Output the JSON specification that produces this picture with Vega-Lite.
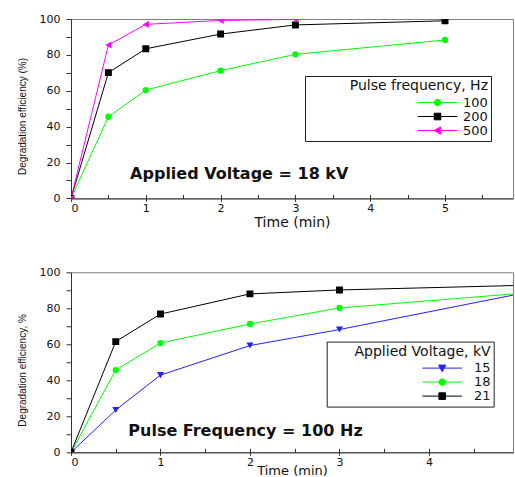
{
  "$schema": "https://vega.github.io/schema/vega-lite/v6.json",
  "padding": {"left": 16, "top": 12, "right": 0, "bottom": 0},
  "background": "white",
  "bounds": "flush",
  "spacing": 73.3,
  "resolve": {
    "scale": {"color": "independent", "shape": "independent", "stroke": "independent"}
  },
  "config": {
    "font": "DejaVu Sans",
    "view": {"stroke": "#808080", "strokeWidth": 1},
    "axis": {
      "grid": false,
      "domainColor": "#333333",
      "tickColor": "#333333",
      "labelFont": "DejaVu Sans",
      "labelFontSize": 11,
      "labelColor": "#111111",
      "titleFont": "DejaVu Sans",
      "titleFontWeight": "normal",
      "titleColor": "#111111"
    }
  },
  "vconcat": [
    {
      "width": 442,
      "height": 179.4,
      "data": {
        "values": [
          {"t": 0, "e": 0, "s": "100"},
          {"t": 0.5, "e": 45.5, "s": "100"},
          {"t": 1, "e": 60.4, "s": "100"},
          {"t": 2, "e": 71.2, "s": "100"},
          {"t": 3, "e": 80.3, "s": "100"},
          {"t": 5, "e": 88.3, "s": "100"},
          {"t": 0, "e": 0, "s": "200"},
          {"t": 0.5, "e": 70.1, "s": "200"},
          {"t": 1, "e": 83.4, "s": "200"},
          {"t": 2, "e": 91.6, "s": "200"},
          {"t": 3, "e": 96.7, "s": "200"},
          {"t": 5, "e": 99.0, "s": "200"},
          {"t": 0, "e": 0, "s": "500"},
          {"t": 0.5, "e": 85.5, "s": "500"},
          {"t": 1, "e": 97.0, "s": "500"},
          {"t": 2, "e": 99.2, "s": "500"},
          {"t": 3, "e": 99.8, "s": "500"}
        ]
      },
      "encoding": {
        "y": {
          "field": "e",
          "type": "quantitative",
          "scale": {"domain": [0, 100], "nice": false},
          "axis": {
            "title": "Degradation efficiency (%)",
            "values": [0, 10, 20, 30, 40, 50, 60, 70, 80, 90, 100],
            "labelExpr": "datum.value % 20 == 0 ? datum.label : ''",
            "tickSize": 5,
            "labelPadding": 6,
            "titleFont": "Liberation Sans",
            "titleFontSize": 10,
            "titleX": -44,
            "titleY": 97
          }
        },
        "x": {
          "field": "t",
          "type": "quantitative",
          "scale": {"domain": [0, 5.909], "nice": false, "zero": false},
          "axis": {
            "title": "Time (min)",
            "values": [0, 0.5, 1, 1.5, 2, 2.5, 3, 3.5, 4, 4.5, 5, 5.5],
            "labelExpr": "datum.value % 1 == 0 ? format(datum.value, 'd') : ''",
            "tickOpacity": {"condition": {"test": "datum.value % 1 != 0", "value": 0}, "value": 1},
            "tickSize": 3,
            "labelPadding": 1,
            "grid": true,
            "gridColor": "#333333",
            "gridWidth": 1,
            "gridDash": [4, 175.4],
            "gridDashOffset": 4,
            "titleFontSize": 14,
            "titleY": 24,
            "titleBaseline": "middle"
          }
        }
      },
      "layer": [
        {
          "transform": [{"filter": "datum.t < 0"}],
          "mark": {"type": "point", "filled": true, "opacity": 1, "strokeWidth": 1},
          "encoding": {
            "color": {
              "field": "s",
              "type": "nominal",
              "scale": {"domain": ["100", "200", "500"], "range": ["#00ff00", "#000000", "#ff00ff"]},
              "legend": {
                "title": "Pulse frequency, Hz",
                "orient": "none",
                "legendX": 234,
                "legendY": 57,
                "direction": "vertical",
                "fillColor": "white",
                "strokeColor": "#222222",
                "padding": 3,
                "titleAnchor": "end",
                "titleFont": "DejaVu Sans",
                "titleFontSize": 14,
                "titleFontWeight": "normal",
                "titleColor": "#111111",
                "titlePadding": 3,
                "titleLimit": 400,
                "labelFont": "DejaVu Sans",
                "labelFontSize": 13,
                "labelColor": "#111111",
                "symbolSize": 144,
                "symbolStrokeWidth": 1,
                "symbolOffset": 123,
                "labelOffset": 19,
                "clipHeight": 13,
                "rowPadding": 0
              }
            },
            "stroke": {
              "field": "s",
              "type": "nominal",
              "scale": {"domain": ["100", "200", "500"], "range": ["#00ff00", "#000000", "#ff00ff"]},
              "legend": {
                "title": "Pulse frequency, Hz",
                "orient": "none",
                "legendX": 234,
                "legendY": 57,
                "direction": "vertical",
                "fillColor": "white",
                "strokeColor": "#222222",
                "padding": 3,
                "titleAnchor": "end",
                "titleFont": "DejaVu Sans",
                "titleFontSize": 14,
                "titleFontWeight": "normal",
                "titleColor": "#111111",
                "titlePadding": 3,
                "titleLimit": 400,
                "labelFont": "DejaVu Sans",
                "labelFontSize": 13,
                "labelColor": "#111111",
                "symbolSize": 144,
                "symbolStrokeWidth": 1,
                "symbolOffset": 123,
                "labelOffset": 19,
                "clipHeight": 13,
                "rowPadding": 0
              }
            },
            "shape": {
              "field": "s",
              "type": "nominal",
              "scale": {
                "domain": ["100", "200", "500"],
                "range": [
                  "M-3.3,0H3.3M0.55,0L0.39,0.39L0,0.55L-0.39,0.39L-0.55,0L-0.39,-0.39L0,-0.55L0.39,-0.39Z",
                  "M-3.3,0H3.3M-0.55,-0.55H0.55V0.55H-0.55Z",
                  "M-3.3,0H3.3M-0.6,0L0.55,-0.6L0.55,0.6Z"
                ]
              },
              "legend": {
                "title": "Pulse frequency, Hz",
                "orient": "none",
                "legendX": 234,
                "legendY": 57,
                "direction": "vertical",
                "fillColor": "white",
                "strokeColor": "#222222",
                "padding": 3,
                "titleAnchor": "end",
                "titleFont": "DejaVu Sans",
                "titleFontSize": 14,
                "titleFontWeight": "normal",
                "titleColor": "#111111",
                "titlePadding": 3,
                "titleLimit": 400,
                "labelFont": "DejaVu Sans",
                "labelFontSize": 13,
                "labelColor": "#111111",
                "symbolSize": 144,
                "symbolStrokeWidth": 1,
                "symbolOffset": 123,
                "labelOffset": 19,
                "clipHeight": 13,
                "rowPadding": 0
              }
            }
          }
        },
        {
          "mark": {"type": "line", "strokeWidth": 1, "clip": true},
          "encoding": {
            "color": {
              "field": "s",
              "type": "nominal",
              "scale": {"domain": ["100", "200", "500"], "range": ["#00ff00", "#000000", "#ff00ff"]}
            }
          }
        },
        {
          "transform": [{"filter": "datum.s == '100'"}],
          "mark": {"type": "point", "shape": "circle", "filled": true, "opacity": 1, "size": 40, "clip": true},
          "encoding": {
            "color": {
              "field": "s",
              "type": "nominal",
              "scale": {"domain": ["100", "200", "500"], "range": ["#00ff00", "#000000", "#ff00ff"]}
            }
          }
        },
        {
          "transform": [{"filter": "datum.s == '200'"}],
          "mark": {"type": "point", "shape": "square", "filled": true, "opacity": 1, "size": 48, "clip": true},
          "encoding": {
            "color": {
              "field": "s",
              "type": "nominal",
              "scale": {"domain": ["100", "200", "500"], "range": ["#00ff00", "#000000", "#ff00ff"]}
            }
          }
        },
        {
          "transform": [{"filter": "datum.s == '500'"}],
          "mark": {"type": "point", "shape": "triangle-left", "filled": true, "opacity": 1, "size": 50, "clip": true},
          "encoding": {
            "color": {
              "field": "s",
              "type": "nominal",
              "scale": {"domain": ["100", "200", "500"], "range": ["#00ff00", "#000000", "#ff00ff"]}
            }
          }
        },
        {
          "data": {"values": [{"label": "Applied Voltage = 18 kV", "t": 0.79, "e": 13.8}]},
          "mark": {"type": "text", "font": "DejaVu Sans", "fontWeight": "bold", "fontSize": 16, "align": "left", "baseline": "middle", "color": "#111111"},
          "encoding": {
            "text": {"field": "label", "type": "nominal"}
          }
        }
      ]
    },
    {
      "width": 442,
      "height": 180,
      "data": {
        "values": [
          {"t": 0, "e": 0, "v": "15"},
          {"t": 0.5, "e": 23.5, "v": "15"},
          {"t": 1, "e": 42.9, "v": "15"},
          {"t": 2, "e": 59.3, "v": "15"},
          {"t": 3, "e": 68.2, "v": "15"},
          {"t": 5, "e": 87.9, "v": "15"},
          {"t": 0, "e": 0, "v": "18"},
          {"t": 0.5, "e": 45.7, "v": "18"},
          {"t": 1, "e": 60.7, "v": "18"},
          {"t": 2, "e": 71.3, "v": "18"},
          {"t": 3, "e": 80.2, "v": "18"},
          {"t": 5, "e": 88.2, "v": "18"},
          {"t": 0, "e": 0, "v": "21"},
          {"t": 0.5, "e": 61.5, "v": "21"},
          {"t": 1, "e": 76.8, "v": "21"},
          {"t": 2, "e": 88.0, "v": "21"},
          {"t": 3, "e": 90.2, "v": "21"},
          {"t": 5, "e": 92.7, "v": "21"}
        ]
      },
      "encoding": {
        "y": {
          "field": "e",
          "type": "quantitative",
          "scale": {"domain": [0, 100], "nice": false},
          "axis": {
            "title": "Degradation efficiency, %",
            "values": [0, 10, 20, 30, 40, 50, 60, 70, 80, 90, 100],
            "labelExpr": "datum.value % 20 == 0 ? datum.label : ''",
            "tickSize": 5,
            "labelPadding": 6,
            "titleFont": "Liberation Sans",
            "titleFontSize": 10,
            "titleX": -44,
            "titleY": 97.6
          }
        },
        "x": {
          "field": "t",
          "type": "quantitative",
          "scale": {"domain": [0, 4.939], "nice": false, "zero": false},
          "axis": {
            "title": "Time (min)",
            "values": [0, 0.5, 1, 1.5, 2, 2.5, 3, 3.5, 4, 4.5],
            "labelExpr": "datum.value % 1 == 0 ? format(datum.value, 'd') : ''",
            "tickOpacity": {"condition": {"test": "datum.value % 1 != 0", "value": 0}, "value": 1},
            "tickSize": 3,
            "labelPadding": 1,
            "grid": true,
            "gridColor": "#333333",
            "gridWidth": 1,
            "gridDash": [4, 176],
            "gridDashOffset": 4,
            "titleFontSize": 13,
            "titleY": 18,
            "titleBaseline": "middle"
          }
        }
      },
      "layer": [
        {
          "transform": [{"filter": "datum.t < 0"}],
          "mark": {"type": "point", "filled": true, "opacity": 1, "strokeWidth": 1},
          "encoding": {
            "color": {
              "field": "v",
              "type": "nominal",
              "scale": {"domain": ["15", "18", "21"], "range": ["#2020ff", "#00ff00", "#000000"]},
              "legend": {
                "title": "Applied Voltage, kV",
                "orient": "none",
                "legendX": 255.7,
                "legendY": 69.3,
                "direction": "vertical",
                "fillColor": "white",
                "strokeColor": "#222222",
                "padding": 3,
                "titleAnchor": "end",
                "titleFont": "DejaVu Sans",
                "titleFontSize": 14,
                "titleFontWeight": "normal",
                "titleColor": "#111111",
                "titlePadding": 3,
                "titleLimit": 400,
                "labelFont": "DejaVu Sans",
                "labelFontSize": 13,
                "labelColor": "#111111",
                "symbolSize": 144,
                "symbolStrokeWidth": 1,
                "symbolOffset": 106,
                "labelOffset": 25.3,
                "clipHeight": 13,
                "rowPadding": 0
              }
            },
            "stroke": {
              "field": "v",
              "type": "nominal",
              "scale": {"domain": ["15", "18", "21"], "range": ["#2020ff", "#00ff00", "#000000"]},
              "legend": {
                "title": "Applied Voltage, kV",
                "orient": "none",
                "legendX": 255.7,
                "legendY": 69.3,
                "direction": "vertical",
                "fillColor": "white",
                "strokeColor": "#222222",
                "padding": 3,
                "titleAnchor": "end",
                "titleFont": "DejaVu Sans",
                "titleFontSize": 14,
                "titleFontWeight": "normal",
                "titleColor": "#111111",
                "titlePadding": 3,
                "titleLimit": 400,
                "labelFont": "DejaVu Sans",
                "labelFontSize": 13,
                "labelColor": "#111111",
                "symbolSize": 144,
                "symbolStrokeWidth": 1,
                "symbolOffset": 106,
                "labelOffset": 25.3,
                "clipHeight": 13,
                "rowPadding": 0
              }
            },
            "shape": {
              "field": "v",
              "type": "nominal",
              "scale": {
                "domain": ["15", "18", "21"],
                "range": [
                  "M-3.3,0H3.3M-0.6,-0.5L0.6,-0.5L0,0.6Z",
                  "M-3.3,0H3.3M0.55,0L0.39,0.39L0,0.55L-0.39,0.39L-0.55,0L-0.39,-0.39L0,-0.55L0.39,-0.39Z",
                  "M-3.3,0H3.3M-0.55,-0.55H0.55V0.55H-0.55Z"
                ]
              },
              "legend": {
                "title": "Applied Voltage, kV",
                "orient": "none",
                "legendX": 255.7,
                "legendY": 69.3,
                "direction": "vertical",
                "fillColor": "white",
                "strokeColor": "#222222",
                "padding": 3,
                "titleAnchor": "end",
                "titleFont": "DejaVu Sans",
                "titleFontSize": 14,
                "titleFontWeight": "normal",
                "titleColor": "#111111",
                "titlePadding": 3,
                "titleLimit": 400,
                "labelFont": "DejaVu Sans",
                "labelFontSize": 13,
                "labelColor": "#111111",
                "symbolSize": 144,
                "symbolStrokeWidth": 1,
                "symbolOffset": 106,
                "labelOffset": 25.3,
                "clipHeight": 13,
                "rowPadding": 0
              }
            }
          }
        },
        {
          "mark": {"type": "line", "strokeWidth": 1, "clip": true},
          "encoding": {
            "color": {
              "field": "v",
              "type": "nominal",
              "scale": {"domain": ["15", "18", "21"], "range": ["#2020ff", "#00ff00", "#000000"]}
            }
          }
        },
        {
          "transform": [{"filter": "datum.v == '15'"}],
          "mark": {"type": "point", "shape": "triangle-down", "filled": true, "opacity": 1, "size": 50, "clip": true},
          "encoding": {
            "color": {
              "field": "v",
              "type": "nominal",
              "scale": {"domain": ["15", "18", "21"], "range": ["#2020ff", "#00ff00", "#000000"]}
            }
          }
        },
        {
          "transform": [{"filter": "datum.v == '18'"}],
          "mark": {"type": "point", "shape": "circle", "filled": true, "opacity": 1, "size": 40, "clip": true},
          "encoding": {
            "color": {
              "field": "v",
              "type": "nominal",
              "scale": {"domain": ["15", "18", "21"], "range": ["#2020ff", "#00ff00", "#000000"]}
            }
          }
        },
        {
          "transform": [{"filter": "datum.v == '21'"}],
          "mark": {"type": "point", "shape": "square", "filled": true, "opacity": 1, "size": 48, "clip": true},
          "encoding": {
            "color": {
              "field": "v",
              "type": "nominal",
              "scale": {"domain": ["15", "18", "21"], "range": ["#2020ff", "#00ff00", "#000000"]}
            }
          }
        },
        {
          "data": {"values": [{"label": "Pulse Frequency = 100 Hz", "t": 0.64, "e": 11.7}]},
          "mark": {"type": "text", "font": "DejaVu Sans", "fontWeight": "bold", "fontSize": 16, "align": "left", "baseline": "middle", "color": "#111111"},
          "encoding": {
            "text": {"field": "label", "type": "nominal"}
          }
        }
      ]
    }
  ]
}
